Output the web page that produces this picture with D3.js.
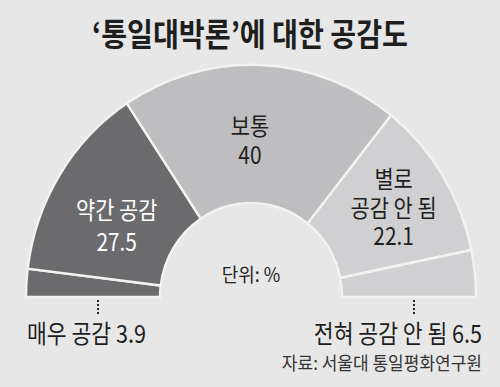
<!DOCTYPE html>
<html>
<head>
<meta charset="utf-8">
<script src="https://cdn.jsdelivr.net/npm/d3@7"></script>
<style>
  body { margin: 0; background: #e7e7e7; }
  svg { display: block; }
  text { font-family: "Noto Sans CJK KR", "Noto Sans", sans-serif; }
</style>
</head>
<body>
<script>
// data
const categories = ['매우 공감', '약간 공감', '보통', '별로 공감 안 됨', '전혀 공감 안 됨'];
const values = [3.9, 27.5, 40, 22.1, 6.5];
const colors = ['#6b6b6d', '#6b6b6d', '#bebec0', '#d0d0d2', '#d0d0d2'];
const titleText = '‘통일대박론’에 대한 공감도';
const unitText = '단위: %';
const sourceText = '자료: 서울대 통일평화연구원';

const width = 500, height = 387;
const cx = 251, cy = 297;
const outerR = 225, innerR = 91;

let svg = d3.select('body').append('svg')
  .attr('width', width)
  .attr('height', height);

svg.append('rect')
  .attr('width', width).attr('height', height)
  .attr('fill', '#e7e7e7');

// title
svg.append('text')
  .attr('x', width / 2)
  .attr('y', 46)
  .attr('text-anchor', 'middle')
  .attr('font-size', 32)
  .attr('font-weight', 700)
  .attr('fill', '#1e1e1e')
  .attr('textLength', 316)
  .attr('lengthAdjust', 'spacingAndGlyphs')
  .text(titleText);

let data = categories.map((c, i) => ({ name: c, value: values[i], idx: i }));

let pie = d3.pie()
  .sort(null)
  .value(d => d.value)
  .startAngle(-Math.PI / 2)
  .endAngle(Math.PI / 2);

let arc = d3.arc()
  .innerRadius(innerR)
  .outerRadius(outerR);

let arcs = pie(data);

// half donut, slightly taller than wide like the print version
let g = svg.append('g')
  .attr('transform', `translate(${cx},${cy}) scale(1,1.032)`);

g.selectAll('path')
  .data(arcs)
  .enter().append('path')
  .attr('d', arc)
  .attr('fill', d => colors[d.data.idx])
  .attr('stroke', '#f2f2f2')
  .attr('stroke-width', 2.4);

// labels inside the ring (one text element, lines as tspans)
const inside = {
  1: { lines: ['약간 공감', values[1]], fill: '#fff', nudge: [0, 16], gap: 32 },
  2: { lines: ['보통', values[2]], fill: '#1e1e1e', nudge: [-8, 7], gap: 29 },
  3: { lines: ['별로', '공감 안 됨', values[3]], fill: '#1e1e1e', nudge: [8, -3], gap: 28.5 }
};

arcs.forEach(a => {
  let lab = inside[a.data.idx];
  if (!lab) return;
  let c = arc.centroid(a);
  let x = cx + c[0] + lab.nudge[0];
  let y = cy + c[1] * 1.032 + lab.nudge[1];
  let n = lab.lines.length;
  let txt = svg.append('text')
    .attr('transform', `translate(${x},${y + 8 - (n - 1) / 2 * lab.gap}) scale(0.87,1)`)
    .attr('text-anchor', 'middle')
    .attr('font-size', 24)
    .attr('fill', lab.fill);
  lab.lines.forEach((t, j) => {
    txt.append('tspan')
      .attr('x', 0)
      .attr('y', j * lab.gap)
      .text(t);
  });
});

// unit label in the hole
svg.append('text')
  .attr('transform', `translate(${cx},282) scale(0.92,1)`)
  .attr('text-anchor', 'middle')
  .attr('font-size', 19.5)
  .attr('fill', '#222')
  .text(unitText);

// outside labels for the thin slices
const outside = [
  { idx: 0, x: 98, anchor: 'start', tx: 27 },
  { idx: 4, x: 414, anchor: 'end', tx: 482 }
];

outside.forEach(o => {
  svg.append('line')
    .attr('x1', o.x).attr('x2', o.x)
    .attr('y1', 300).attr('y2', 316)
    .attr('stroke', '#222')
    .attr('stroke-width', 2)
    .attr('stroke-dasharray', '2,2');

  svg.append('text')
    .attr('transform', `translate(${o.tx},343) scale(0.88,1)`)
    .attr('text-anchor', o.anchor)
    .attr('font-size', 24.5)
    .attr('fill', '#1e1e1e')
    .text(categories[o.idx] + ' ' + values[o.idx]);
});

// source
svg.append('text')
  .attr('transform', `translate(482,370) scale(0.92,1)`)
  .attr('text-anchor', 'end')
  .attr('font-size', 18.5)
  .attr('fill', '#333')
  .text(sourceText);
</script>
</body>
</html>
